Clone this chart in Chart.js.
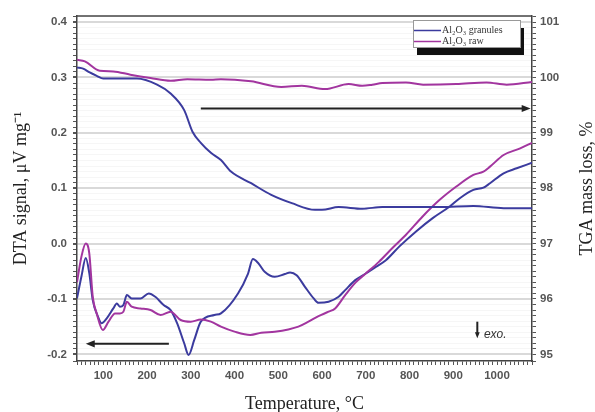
<!DOCTYPE html>
<html>
<head>
<meta charset="utf-8">
<script src="https://cdn.jsdelivr.net/npm/chart.js@4"></script>
<style>
  html, body { margin: 0; padding: 0; background: #fff; }
  #wrap { width: 595px; height: 412px; }
</style>
</head>
<body>
<div id="wrap"><canvas id="dta-chart" width="595" height="412"></canvas></div>
<script>
// DTA curves (left axis, µV/mg)
const dtaGranT = [40, 50, 60, 68, 76, 88, 96, 108, 123, 131, 138, 146, 154, 165, 185, 204, 219, 238, 254, 269, 285, 295, 308, 323, 354, 369, 408, 431, 442, 454, 469, 492, 515, 527, 542, 561, 581, 592, 615, 638, 653, 676, 700, 723, 746, 777, 815, 853, 892, 915, 946, 969, 984, 1015, 1045, 1080];
const dtaGranV = [-0.099, -0.060, -0.026, -0.053, -0.102, -0.132, -0.144, -0.135, -0.117, -0.108, -0.114, -0.111, -0.093, -0.099, -0.099, -0.090, -0.096, -0.111, -0.120, -0.144, -0.180, -0.201, -0.174, -0.141, -0.129, -0.126, -0.090, -0.054, -0.028, -0.035, -0.051, -0.060, -0.055, -0.052, -0.057, -0.078, -0.099, -0.107, -0.105, -0.096, -0.084, -0.066, -0.054, -0.042, -0.030, -0.005, 0.022, 0.046, 0.067, 0.082, 0.097, 0.101, 0.109, 0.127, 0.136, 0.146];
const dtaRawT = [40, 50, 60, 68, 76, 85, 99, 112, 127, 138, 146, 154, 165, 185, 208, 231, 254, 277, 300, 323, 346, 369, 400, 436, 461, 492, 523, 546, 569, 592, 615, 630, 653, 677, 700, 730, 761, 792, 830, 869, 907, 946, 969, 984, 1015, 1053, 1080];
const dtaRawV = [-0.070, -0.024, 0.000, -0.017, -0.096, -0.126, -0.156, -0.141, -0.126, -0.126, -0.123, -0.105, -0.114, -0.117, -0.120, -0.129, -0.123, -0.138, -0.141, -0.137, -0.141, -0.150, -0.159, -0.165, -0.161, -0.159, -0.155, -0.150, -0.141, -0.131, -0.123, -0.117, -0.093, -0.070, -0.054, -0.033, -0.008, 0.016, 0.049, 0.079, 0.103, 0.124, 0.130, 0.139, 0.160, 0.172, 0.182];

// TGA curves (right axis, %)
const tgaGranT = [40, 54, 69, 85, 100, 140, 177, 223, 254, 285, 304, 323, 346, 369, 392, 438, 484, 531, 584, 600, 638, 692, 738, 800, 870, 946, 1015, 1080];
const tgaGranV = [100.18, 100.16, 100.09, 100.03, 99.98, 99.98, 99.98, 99.87, 99.71, 99.41, 99.02, 98.82, 98.64, 98.51, 98.30, 98.09, 97.88, 97.73, 97.61, 97.61, 97.66, 97.63, 97.66, 97.66, 97.66, 97.68, 97.64, 97.64];
const tgaRawT = [40, 58, 92, 123, 162, 208, 254, 292, 346, 369, 438, 507, 554, 607, 661, 692, 715, 738, 792, 831, 907, 976, 1022, 1080];
const tgaRawV = [100.32, 100.29, 100.12, 100.11, 100.05, 99.99, 99.94, 99.97, 99.96, 99.97, 99.93, 99.83, 99.85, 99.79, 99.88, 99.85, 99.87, 99.90, 99.91, 99.87, 99.88, 99.91, 99.87, 99.92];

const seriesNames = ["Al\u2082O\u2083 granules", "Al\u2082O\u2083 raw"];
const xMajor = [100, 200, 300, 400, 500, 600, 700, 800, 900, 1000];
const dtaMajor = [-0.2, -0.1, 0.0, 0.1, 0.2, 0.3, 0.4];
const tgaMajor = [95, 96, 97, 98, 99, 100, 101];

const BLUE = "#3b3b9e";
const PURPLE = "#a2359f";

function pts(xs, ys) {
  return xs.map((x, i) => ({ x: x, y: ys[i] }));
}

function isMajor(v, list) {
  return list.some(m => Math.abs(m - v) < 1e-6);
}

function line(label, xs, ys, color, axis) {
  return {
    label: label,
    data: pts(xs, ys),
    borderColor: color,
    backgroundColor: color,
    borderWidth: 2,
    pointRadius: 0,
    tension: 0.4,
    cubicInterpolationMode: "monotone",
    yAxisID: axis
  };
}

const tickFont = { family: "Liberation Sans", size: 11.5, weight: "bold" };
const serif = "Liberation Serif";

// arrows, legend box, top frame, right title
const extras = {
  id: "extras",
  afterDraw(chart) {
    const { ctx, chartArea: a, scales } = chart;
    const xs = scales.x, ys = scales.y;
    ctx.save();

    ctx.strokeStyle = "#444";
    ctx.lineWidth = 1.5;
    ctx.beginPath();
    ctx.moveTo(a.left, a.top);
    ctx.lineTo(a.right, a.top);
    ctx.stroke();

    function arrow(t1, v1, t2, v2, head) {
      const x1 = xs.getPixelForValue(t1), y1 = ys.getPixelForValue(v1);
      const x2 = xs.getPixelForValue(t2), y2 = ys.getPixelForValue(v2);
      const ang = Math.atan2(y2 - y1, x2 - x1);
      ctx.strokeStyle = "#222";
      ctx.fillStyle = "#222";
      ctx.lineWidth = 2;
      ctx.beginPath();
      ctx.moveTo(x1, y1);
      ctx.lineTo(x2 - Math.cos(ang) * head * 0.6, y2 - Math.sin(ang) * head * 0.6);
      ctx.stroke();
      ctx.beginPath();
      ctx.moveTo(x2, y2);
      ctx.lineTo(x2 - head * Math.cos(ang) + head * 0.4 * Math.sin(ang), y2 - head * Math.sin(ang) - head * 0.4 * Math.cos(ang));
      ctx.lineTo(x2 - head * Math.cos(ang) - head * 0.4 * Math.sin(ang), y2 - head * Math.sin(ang) + head * 0.4 * Math.cos(ang));
      ctx.closePath();
      ctx.fill();
    }
    arrow(323, 0.244, 1077, 0.244, 9);
    arrow(250, -0.181, 60, -0.181, 9);
    arrow(955, -0.141, 955, -0.171, 6);

    ctx.fillStyle = "#333";
    ctx.font = "italic 12px 'Liberation Sans'";
    ctx.textBaseline = "middle";
    ctx.textAlign = "left";
    ctx.fillText("exo.", xs.getPixelForValue(970), ys.getPixelForValue(-0.164));

    // legend
    const lx = 413, ly = 20, lw = 107, lh = 27;
    ctx.fillStyle = "#111";
    ctx.fillRect(lx + 4, ly + 8, lw, lh);
    ctx.fillStyle = "#fff";
    ctx.fillRect(lx, ly, lw, lh);
    ctx.strokeStyle = "#999";
    ctx.lineWidth = 1;
    ctx.strokeRect(lx + 0.5, ly + 0.5, lw, lh);
    const legendColors = [BLUE, PURPLE];
    seriesNames.forEach((name, i) => {
      const yy = ly + 10.5 + i * 11;
      ctx.strokeStyle = legendColors[i];
      ctx.lineWidth = 1.5;
      ctx.beginPath();
      ctx.moveTo(lx + 1, yy);
      ctx.lineTo(lx + 28, yy);
      ctx.stroke();
      ctx.fillStyle = "#333";
      ctx.font = "10px '" + serif + "'";
      ctx.textAlign = "left";
      ctx.fillText(name, lx + 29, yy);
    });

    // right axis title, reading bottom to top
    ctx.save();
    ctx.translate(587, (a.top + a.bottom) / 2);
    ctx.rotate(-Math.PI / 2);
    ctx.fillStyle = "#222";
    ctx.font = "18px '" + serif + "'";
    ctx.textAlign = "center";
    ctx.textBaseline = "middle";
    ctx.fillText("TGA mass loss, %", 0, 0);
    ctx.restore();

    ctx.restore();
  }
};

const ctx = document.getElementById("dta-chart").getContext("2d");
const dtaChart = new Chart(ctx, {
  type: "line",
  data: {
    datasets: [
      line(seriesNames[0] + " TGA", tgaGranT, tgaGranV, BLUE, "y2"),
      line(seriesNames[1] + " TGA", tgaRawT, tgaRawV, PURPLE, "y2"),
      line(seriesNames[1] + " DTA", dtaRawT, dtaRawV, PURPLE, "y"),
      line(seriesNames[0] + " DTA", dtaGranT, dtaGranV, BLUE, "y")
    ]
  },
  options: {
    responsive: false,
    animation: false,
    layout: { padding: { top: 16, left: 0, right: 0, bottom: 0 } },
    plugins: {
      legend: { display: false },
      tooltip: { enabled: false }
    },
    scales: {
      x: {
        type: "linear",
        min: 40,
        max: 1080,
        afterFit: s => { s.height = 51; },
        border: { display: true, color: "#444", width: 1.5 },
        grid: { drawOnChartArea: false, drawTicks: true, tickLength: 4, tickColor: "#555" },
        ticks: {
          stepSize: 10,
          autoSkip: false,
          maxRotation: 0,
          padding: 4,
          color: "#555",
          font: tickFont,
          callback: v => (isMajor(v, xMajor) ? String(Math.round(v)) : "")
        },
        title: {
          display: true,
          text: "Temperature, \u00b0C",
          color: "#222",
          font: { family: serif, size: 18, lineHeight: 0.9 },
          padding: { top: 0, bottom: 0 }
        }
      },
      y: {
        position: "left",
        min: -0.212,
        max: 0.411,
        afterFit: s => { s.width = 77; },
        border: { display: true, color: "#444", width: 1.5 },
        grid: {
          drawTicks: true,
          tickLength: 4,
          tickColor: "#555",
          color: c => (isMajor(c.tick.value, dtaMajor) ? "#d9d9d9" : "rgba(0,0,0,0.035)"),
          lineWidth: c => (isMajor(c.tick.value, dtaMajor) ? 2 : 1)
        },
        ticks: {
          stepSize: 0.01,
          autoSkip: false,
          padding: 6,
          color: "#555",
          font: tickFont,
          callback: v => (isMajor(v, dtaMajor) ? (Math.round(v * 10) / 10).toFixed(1) : "")
        },
        title: {
          display: true,
          text: "DTA signal, \u03bcV mg\u207b\u00b9",
          color: "#222",
          font: { family: serif, size: 18, lineHeight: 1.2 },
          padding: { top: 10, bottom: 0 }
        }
      },
      y2: {
        position: "right",
        min: 94.88,
        max: 101.11,
        afterFit: s => { s.width = 63; },
        border: { display: true, color: "#444", width: 1.5 },
        grid: { drawOnChartArea: false, drawTicks: true, tickLength: 4, tickColor: "#555" },
        ticks: {
          stepSize: 0.1,
          autoSkip: false,
          padding: 4,
          color: "#555",
          font: tickFont,
          callback: v => (isMajor(v, tgaMajor) ? String(Math.round(v)) : "")
        }
      }
    }
  },
  plugins: [extras]
});
</script>
</body>
</html>
